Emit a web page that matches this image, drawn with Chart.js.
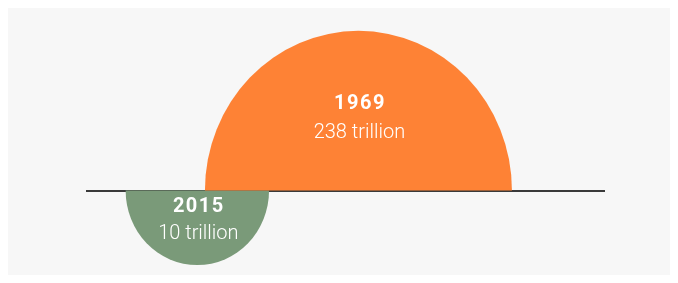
<!DOCTYPE html>
<html>
<head>
<meta charset="utf-8">
<script src="https://cdn.jsdelivr.net/npm/chart.js@4.4.0/dist/chart.umd.min.js"></script>
<style>
  html, body { margin: 0; padding: 0; background: #ffffff; }
  #panel { position: absolute; left: 8px; top: 8px; width: 662px; height: 267px; background: #f7f7f7; }
  #c { display: block; }
</style>
</head>
<body>
<div id="panel"><canvas id="c" width="662" height="267"></canvas></div>
<script>
// ---- data ----
const years = ['1969', '2015'];
const valuesTrillion = [238, 10];
const valueLabels = ['238 trillion', '10 trillion'];

// ---- layout / style (not data) ----
const centersX = [52.4, 21.3];           // horizontal position on a 0-100 axis
const radiiPx = [153.5, 71.7];
const colors = ['#FE8235', '#7A9A79'];
const sides = ['up', 'down'];
const yearOffsets = [-82, 21.5];
const valueOffsets = [-52.5, 48];
const vStretch = 1.04;

const halfClip = {
  id: 'halfClip',
  beforeDatasetDraw(chart, args) {
    const ctx = chart.ctx;
    const base = chart.scales.y.getPixelForValue(0);
    ctx.save();
    ctx.beginPath();
    if (sides[args.index] === 'up') ctx.rect(0, 0, chart.width, base);
    else ctx.rect(0, base, chart.width, chart.height - base);
    ctx.clip();
    ctx.translate(0, base);
    ctx.scale(1, vStretch);
    ctx.translate(0, -base);
  },
  afterDatasetDraw(chart) {
    chart.ctx.restore();
  }
};

const labelsPlugin = {
  id: 'labelsPlugin',
  afterDatasetsDraw(chart) {
    const ctx = chart.ctx;
    ctx.save();
    ctx.fillStyle = '#ffffff';
    ctx.textAlign = 'center';
    ctx.textBaseline = 'alphabetic';
    chart.data.datasets.forEach((ds, i) => {
      const el = chart.getDatasetMeta(i).data[0];
      ctx.font = 'bold 20px Roboto, "DejaVu Sans", sans-serif';
      ctx.letterSpacing = '1.5px';
      ctx.fillText(years[i], el.x + 1.5, el.y + yearOffsets[i]);
      ctx.font = '300 20px Roboto, "DejaVu Sans", sans-serif';
      ctx.letterSpacing = '0px';
      ctx.fillText(valueLabels[i], el.x + 1, el.y + valueOffsets[i]);
    });
    ctx.restore();
  }
};

new Chart(document.getElementById('c'), {
  type: 'bubble',
  data: {
    datasets: years.map((yr, i) => ({
      label: yr,
      data: [{ x: centersX[i], y: 0, v: valuesTrillion[i] }],
      radius: radiiPx[i],
      backgroundColor: colors[i],
      borderWidth: 0,
      hoverRadius: 0,
      clip: false
    }))
  },
  options: {
    responsive: false,
    animation: false,
    events: [],
    layout: { autoPadding: false, padding: { left: 79, right: 65, top: 98, bottom: 0 } },
    plugins: { legend: { display: false }, tooltip: { enabled: false } },
    scales: {
      x: {
        type: 'linear', min: 0, max: 100,
        position: { y: 0 },
        z: 1,
        ticks: { display: false },
        grid: { display: true, drawOnChartArea: false, drawTicks: false, color: 'rgba(0,0,0,0)', lineWidth: 0 },
        border: { display: true, color: '#3a3a3a', width: 2 }
      },
      y: {
        type: 'linear', min: -1, max: 1,
        display: false
      }
    }
  },
  plugins: [halfClip, labelsPlugin]
});
</script>
</body>
</html>
